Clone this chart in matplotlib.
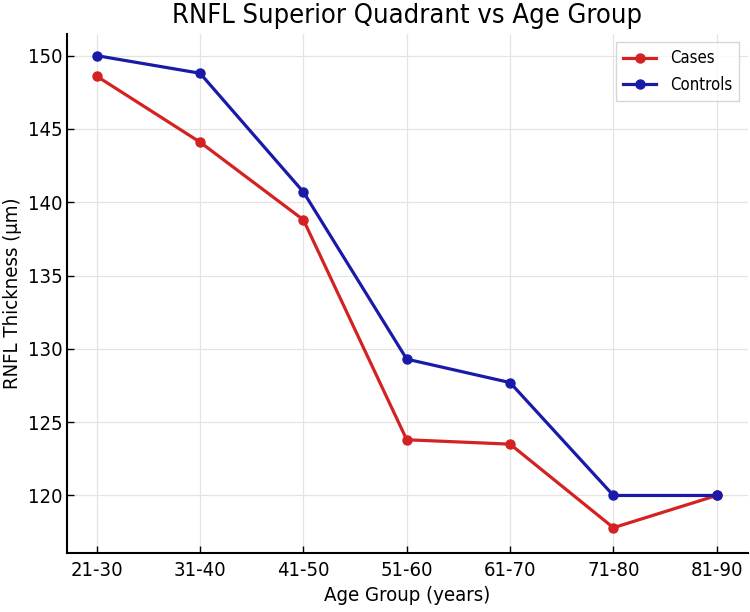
import matplotlib
matplotlib.use("Agg")
import matplotlib.pyplot as plt

age_groups = ["21-30", "31-40", "41-50", "51-60", "61-70", "71-80", "81-90"]
cases = [148.6, 144.1, 138.8, 123.8, 123.5, 117.8, 120.0]
controls = [150.0, 148.8, 140.7, 129.3, 127.7, 120.0, 120.0]
yticks = [120, 125, 130, 135, 140, 145, 150]

plt.rcParams["font.family"] = ["DejaVu Sans"]
plt.rcParams["font.stretch"] = "condensed"

fig = plt.figure(figsize=(7.5, 6.12), dpi=100)
ax = fig.add_axes([0.089, 0.097, 0.908, 0.848])

x = list(range(len(age_groups)))
ax.plot(x, cases, color="#d42222", marker="o", markersize=6.5, linewidth=2.3, label="Cases")
ax.plot(x, controls, color="#1a1aa8", marker="o", markersize=6.5, linewidth=2.3, label="Controls")

ax.set_xticks(x)
ax.set_xticklabels(age_groups)
ax.set_yticks(yticks)
ax.set_xlim(-0.29, 6.3)
ax.set_ylim(116.1, 151.5)

ax.grid(True, color="#e4e4e4", linewidth=0.9)
ax.set_axisbelow(True)
for side in ["top", "right"]:
    ax.spines[side].set_visible(False)
for side in ["left", "bottom"]:
    ax.spines[side].set_linewidth(1.5)
    ax.spines[side].set_color("black")
ax.tick_params(direction="in", length=5, width=1, labelsize=14.5)
ax.tick_params(axis="y", pad=3)
ax.tick_params(axis="x", pad=6)

ax.set_title("RNFL Superior Quadrant vs Age Group", fontsize=19.5, pad=8)
ax.set_xlabel("Age Group (years)", fontsize=14.6)
ax.set_ylabel("RNFL Thickness (μm)", fontsize=14.6)

leg = ax.legend(loc="upper right", fontsize=12, frameon=True, fancybox=False,
                borderpad=0.45, handlelength=2.0)
leg.get_frame().set_edgecolor("#cccccc")

fig.savefig("out.png", dpi=100)
